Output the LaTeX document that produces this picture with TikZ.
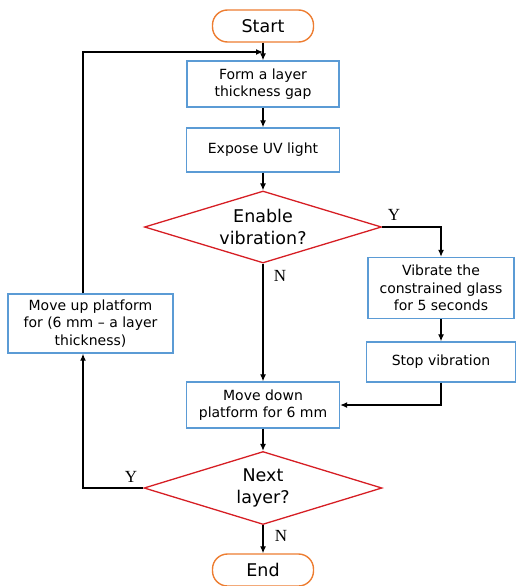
\documentclass[tikz,border=0pt]{standalone}
\usepackage{fontspec}
\setmainfont{DejaVu Sans}
\newfontfamily\lblfont{Liberation Serif}
\usetikzlibrary{shapes.geometric,arrows.meta}
\definecolor{boxblue}{RGB}{91,155,213}
\definecolor{termorange}{RGB}{237,125,49}
\definecolor{decred}{RGB}{214,30,36}
\begin{document}
\begin{tikzpicture}[x=1pt,y=-1pt,
  term/.style={draw=termorange,line width=1.4pt,rounded corners=15pt,minimum width=101pt,minimum height=32pt,inner sep=0pt,font=\fontsize{17.5}{20}\selectfont},
  proc/.style={draw=boxblue,line width=1.4pt,inner sep=0pt,align=center,font=\fontsize{14}{17.5}\selectfont},
  dec/.style={draw=decred,line width=1.3pt,diamond,inner sep=0pt},
  dectext/.style={align=center,inner sep=0pt,font=\fontsize{17.5}{22}\selectfont},
  arr/.style={draw=black,line width=1.2pt,-{Latex[length=7pt,width=6pt]}},
  lbl/.style={font=\lblfont\fontsize{17}{18}\selectfont,inner sep=0pt}]
\useasboundingbox (0,0) rectangle (515,586);
\node[term] (start) at (263,26) {Start};
\node[proc,minimum width=152pt,minimum height=46pt] (b1) at (263,84) {Form a layer\\thickness gap};
\node[proc,minimum width=153pt,minimum height=44pt] (b2) at (263,150) {Expose UV light};
\node[dec,minimum width=237pt,minimum height=72pt] (d1) at (263,227) {};
\node[dectext] (d1t) at (d1) {Enable\\vibration?};
\node[proc,minimum width=146pt,minimum height=61pt] (b3) at (441,288) {Vibrate the\\constrained glass\\for 5 seconds};
\node[proc,minimum width=149pt,minimum height=40pt] (b4) at (441,362) {Stop vibration};
\node[proc,minimum width=153pt,minimum height=46pt] (b5) at (263,405) {Move down\\platform for 6 mm};
\node[proc,minimum width=165pt,minimum height=59pt] (b6) at (90.5,323.5) {Move up platform\\for (6 mm – a layer\\thickness)};
\node[dec,minimum width=238pt,minimum height=73pt] (d2) at (263,488) {};
\node[dectext] (d2t) at (d2) {Next\\layer?};
\node[term] (end) at (263,570) {End};
\coordinate (j) at (263,52);
\coordinate (lp) at (83,488);
\coordinate (tp) at (83,52);
\draw[arr] (start) -- (b1);
\draw[arr] (b1) -- (b2);
\draw[arr] (b2) -- (d1);
\draw[arr] (d1) -- (b5);
\draw[arr] (d1.east) -| (b3.north);
\draw[arr] (b3) -- (b4);
\draw[arr] (b4.south) |- (b5.east);
\draw[arr] (b5) -- (d2);
\draw[arr] (d2) -- (end);
\draw[arr] (d2.west) -- (lp) -- (lp |- b6.south);
\draw[arr] (lp |- b6.north) -- (tp) -- (j);
\node[lbl] (y1) at (394,215) {Y};
\node[lbl] (n1) at (280,276) {N};
\node[lbl] (y2) at (131,477) {Y};
\node[lbl] (n2) at (281,536) {N};
\end{tikzpicture}
\end{document}
